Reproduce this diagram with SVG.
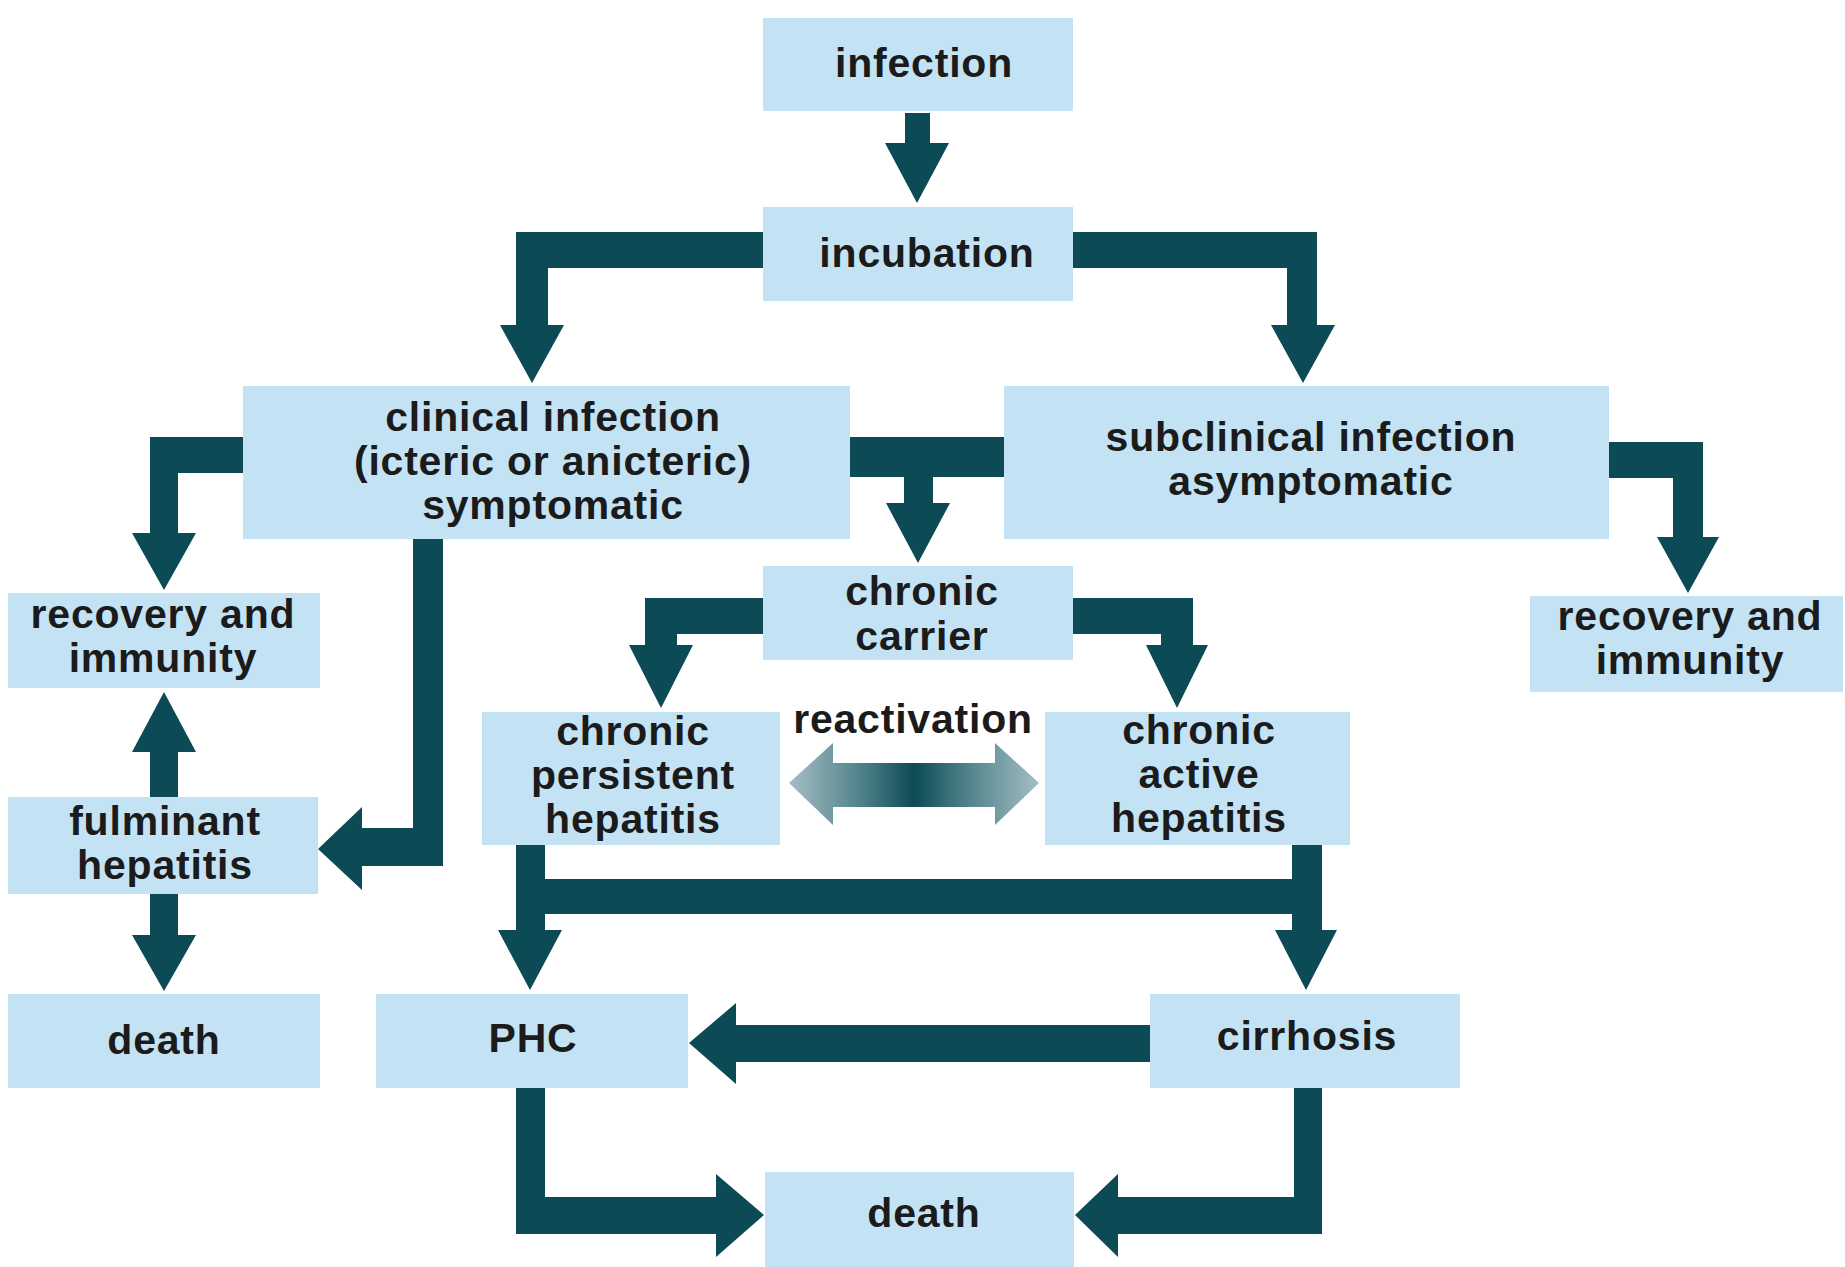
<svg xmlns="http://www.w3.org/2000/svg" width="1845" height="1267" viewBox="0 0 1845 1267">
<style>
.box{fill:#c3e3f5}
.arr{fill:#0c4a55}
text{font-family:"Liberation Sans",Arial,Helvetica,sans-serif;font-weight:bold;font-size:41px;letter-spacing:0.8px;fill:#1b1b1b;text-anchor:middle}
</style>
<defs>
<linearGradient id="react" x1="789" y1="0" x2="1039" y2="0" gradientUnits="userSpaceOnUse">
<stop offset="0" stop-color="#a3bfc3"/>
<stop offset="0.3" stop-color="#4d7f88"/>
<stop offset="0.5" stop-color="#0c4a55"/>
<stop offset="0.7" stop-color="#4d7f88"/>
<stop offset="1" stop-color="#a3bfc3"/>
</linearGradient>
</defs>
<rect width="1845" height="1267" fill="#ffffff"/>
<g id="connectors">
<polygon class="arr" points="905,113 930,113 930,143 949,143 917,203 885,143 905,143"/>
<polygon class="arr" points="763,232 516,232 516,325 500,325 532,383 564,325 548,325 548,268 763,268"/>
<polygon class="arr" points="1073,232 1317,232 1317,325 1335,325 1303,383 1271,325 1287,325 1287,268 1073,268"/>
<polygon class="arr" points="243,437 150,437 150,533 132,533 164,590 196,533 178,533 178,473 243,473"/>
<polygon class="arr" points="850,437 1004,437 1004,477 933,477 933,503 950,503 918,563 886,503 904,503 904,477 850,477"/>
<polygon class="arr" points="1609,442 1703,442 1703,537 1719,537 1688,593 1657,537 1673,537 1673,478 1609,478"/>
<polygon class="arr" points="413,539 443,539 443,866 362,866 362,890 318,849 362,807 362,828 413,828"/>
<polygon class="arr" points="150,797 178,797 178,752 196,752 164,692 132,752 150,752"/>
<polygon class="arr" points="150,894 178,894 178,935 196,935 164,991 132,935 150,935"/>
<polygon class="arr" points="763,598 645,598 645,645 629,645 661,708 693,645 677,645 677,634 763,634"/>
<polygon class="arr" points="1073,598 1193,598 1193,645 1208,645 1177,708 1146,645 1161,645 1161,634 1073,634"/>
<polygon fill="url(#react)" points="789,783 833,743 833,763 995,763 995,743 1039,783 995,825 995,807 833,807 833,825"/>
<polygon class="arr" points="516,845 545,845 545,879 1292,879 1292,845 1322,845 1322,930 1337,930 1306,990 1275,930 1292,930 1292,914 545,914 545,930 562,930 530,990 498,930 516,930"/>
<polygon class="arr" points="1150,1025 736,1025 736,1003 689,1043 736,1084 736,1062 1150,1062"/>
<polygon class="arr" points="516,1088 545,1088 545,1197 716,1197 716,1174 764,1215 716,1257 716,1234 516,1234"/>
<polygon class="arr" points="1322,1088 1294,1088 1294,1197 1118,1197 1118,1174 1075,1215 1118,1257 1118,1234 1322,1234"/>
</g>
<g id="infection"><rect class="box" x="763" y="18" width="310" height="93"/><text x="924" y="77">infection</text></g>
<g id="incubation"><rect class="box" x="763" y="207" width="310" height="94"/><text x="927" y="267">incubation</text></g>
<g id="clinical"><rect class="box" x="243" y="386" width="607" height="153"/><text x="553" y="431">clinical infection</text><text x="553" y="475">(icteric or anicteric)</text><text x="553" y="519">symptomatic</text></g>
<g id="subclinical"><rect class="box" x="1004" y="386" width="605" height="153"/><text x="1311" y="451">subclinical infection</text><text x="1311" y="495">asymptomatic</text></g>
<g id="recovery-left"><rect class="box" x="8" y="593" width="312" height="95"/><text x="163" y="628">recovery and</text><text x="163" y="672">immunity</text></g>
<g id="recovery-right"><rect class="box" x="1530" y="596" width="313" height="96"/><text x="1690" y="630">recovery and</text><text x="1690" y="674">immunity</text></g>
<g id="chronic-carrier"><rect class="box" x="763" y="566" width="310" height="94"/><text x="922" y="605">chronic</text><text x="922" y="650">carrier</text></g>
<g id="chronic-persistent"><rect class="box" x="482" y="712" width="298" height="133"/><text x="633" y="745">chronic</text><text x="633" y="789">persistent</text><text x="633" y="833">hepatitis</text></g>
<g id="reactivation-label"><text x="913" y="733">reactivation</text></g>
<g id="chronic-active"><rect class="box" x="1045" y="712" width="305" height="133"/><text x="1199" y="744">chronic</text><text x="1199" y="788">active</text><text x="1199" y="832">hepatitis</text></g>
<g id="fulminant"><rect class="box" x="8" y="797" width="310" height="97"/><text x="165" y="835">fulminant</text><text x="165" y="879">hepatitis</text></g>
<g id="death-left"><rect class="box" x="8" y="994" width="312" height="94"/><text x="164" y="1054">death</text></g>
<g id="phc"><rect class="box" x="376" y="994" width="312" height="94"/><text x="533" y="1052">PHC</text></g>
<g id="cirrhosis"><rect class="box" x="1150" y="994" width="310" height="94"/><text x="1307" y="1050">cirrhosis</text></g>
<g id="death-bottom"><rect class="box" x="765" y="1172" width="309" height="95"/><text x="924" y="1227">death</text></g>
</svg>
